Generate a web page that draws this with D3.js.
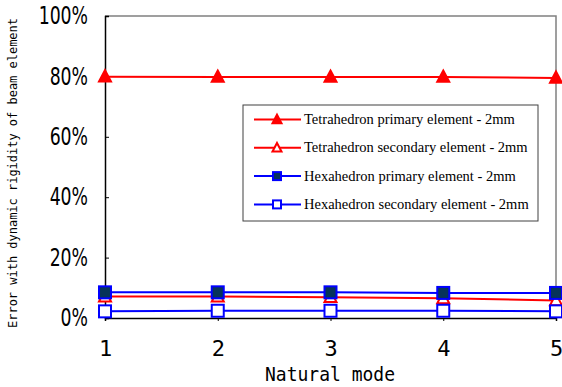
<!DOCTYPE html>
<html>
<head>
<meta charset="utf-8">
<script src="https://cdn.jsdelivr.net/npm/d3@7"></script>
<style>
  html, body { margin: 0; padding: 0; background: #fff; }
  svg { display: block; }
</style>
</head>
<body>
<div id="chart"></div>
<script>
// --- data ---
const modes = [1, 2, 3, 4, 5];
const tetPrimary   = [0.799, 0.798, 0.798, 0.798, 0.795];
const tetSecondary = [0.071, 0.071, 0.069, 0.065, 0.058];
const hexPrimary   = [0.085, 0.085, 0.085, 0.083, 0.083];
const hexSecondary = [0.022, 0.024, 0.024, 0.024, 0.022];
const yTicks = [0, 0.2, 0.4, 0.6, 0.8, 1.0];

const seriesList = [
  { name: 'Tetrahedron primary element - 2mm',   values: tetPrimary,   color: '#ff0000', shape: 'tri', fill: '#ff0000' },
  { name: 'Tetrahedron secondary element - 2mm', values: tetSecondary, color: '#ff0000', shape: 'tri', fill: '#ffffff' },
  { name: 'Hexahedron primary element - 2mm',    values: hexPrimary,   color: '#0000ff', shape: 'sq',  fill: '#06335a' },
  { name: 'Hexahedron secondary element - 2mm',  values: hexSecondary, color: '#0000ff', shape: 'sq',  fill: '#ffffff' }
];

const W = 562, H = 387;
const m = { left: 105, right: 6, top: 16, bottom: 69 };

const svg = d3.select('#chart').append('svg').attr('width', W).attr('height', H);

const x = d3.scaleLinear().domain([1, 5]).range([m.left, W - m.right]);
const y = d3.scaleLinear().domain([0, 1]).range([H - m.bottom, m.top]);

// frame: gray top/right, black left/bottom
svg.append('path')
  .attr('d', `M${x(1)},${y(1)}H${x(5)}V${y(0)}`)
  .attr('fill', 'none').attr('stroke', '#808080').attr('stroke-width', 1.5);

// y axis
const yAxis = svg.append('g').attr('transform', `translate(${x(1)},0)`)
  .call(d3.axisLeft(y).tickValues(yTicks).tickSize(-4).tickPadding(14).tickFormat(d3.format('.0%')));
yAxis.select('.domain').attr('stroke', '#000').attr('stroke-width', 1.5);
yAxis.selectAll('.tick line').attr('stroke', '#000');
yAxis.selectAll('.tick text')
  .attr('font-family', '"DejaVu Sans Condensed", "DejaVu Sans", sans-serif')
  .attr('font-size', 24).attr('fill', '#000')
  .attr('transform', 'scale(0.8,1)')
  .attr('x', -17 / 0.8);

// x axis
const xAxis = svg.append('g').attr('transform', `translate(0,${y(0)})`)
  .call(d3.axisBottom(x).tickValues(modes).tickSize(3).tickPadding(19).tickFormat(d3.format('d')));
xAxis.select('.domain').attr('stroke', '#000').attr('stroke-width', 1.5);
xAxis.selectAll('.tick line').attr('stroke', '#000');
xAxis.selectAll('.tick text')
  .attr('font-family', '"DejaVu Sans Mono", monospace')
  .attr('font-size', 22).attr('fill', '#000');

// axis titles
svg.append('text')
  .attr('x', 330).attr('y', 381)
  .attr('text-anchor', 'middle')
  .attr('font-family', '"DejaVu Sans Mono", monospace')
  .attr('font-size', 19)
  .attr('textLength', 130).attr('lengthAdjust', 'spacingAndGlyphs')
  .text('Natural mode');

svg.append('text')
  .attr('transform', 'translate(17,173) rotate(-90)')
  .attr('text-anchor', 'middle')
  .attr('font-family', '"DejaVu Sans Mono", monospace')
  .attr('font-size', 12)
  .attr('textLength', 310).attr('lengthAdjust', 'spacingAndGlyphs')
  .text('Error with dynamic rigidity of beam element');

function drawMarker(g, shape, cx, cy, s, color, fill) {
  if (shape === 'tri') {
    const h = s * 0.9;
    g.append('path')
      .attr('d', `M${cx},${cy - h * 0.6}L${cx + s / 2},${cy + h * 0.45}L${cx - s / 2},${cy + h * 0.45}Z`)
      .attr('fill', fill).attr('stroke', color).attr('stroke-width', 2).attr('stroke-linejoin', 'miter');
  } else {
    g.append('rect')
      .attr('x', cx - s / 2).attr('y', cy - s / 2).attr('width', s).attr('height', s)
      .attr('fill', fill).attr('stroke', color).attr('stroke-width', 2);
  }
}

const line = d3.line().x((d, i) => x(modes[i])).y(d => y(d));

seriesList.forEach(s => {
  const g = svg.append('g');
  g.append('path').datum(s.values)
    .attr('d', line).attr('fill', 'none').attr('stroke', s.color).attr('stroke-width', 2);
  s.values.forEach((v, i) => drawMarker(g, s.shape, x(modes[i]), y(v), s.shape === 'tri' ? 12 : 12, s.color, s.fill));
});

// legend
const lg = svg.append('g');
lg.append('rect').attr('x', 243).attr('y', 105).attr('width', 295).attr('height', 116)
  .attr('fill', '#fff').attr('stroke', '#404040').attr('stroke-width', 1);
seriesList.forEach((s, i) => {
  const cy = 119.5 + i * 28.3;
  lg.append('line').attr('x1', 254).attr('x2', 301).attr('y1', cy).attr('y2', cy)
    .attr('stroke', s.color).attr('stroke-width', 2);
  drawMarker(lg, s.shape, 277, cy, s.shape === 'tri' ? 9 : 8, s.color, s.fill);
  lg.append('text').attr('x', 304).attr('y', cy + 4.5)
    .attr('font-family', '"Liberation Serif", "Times New Roman", serif')
    .attr('font-size', 14.5).attr('fill', '#000')
    .text(s.name);
});
</script>
</body>
</html>
